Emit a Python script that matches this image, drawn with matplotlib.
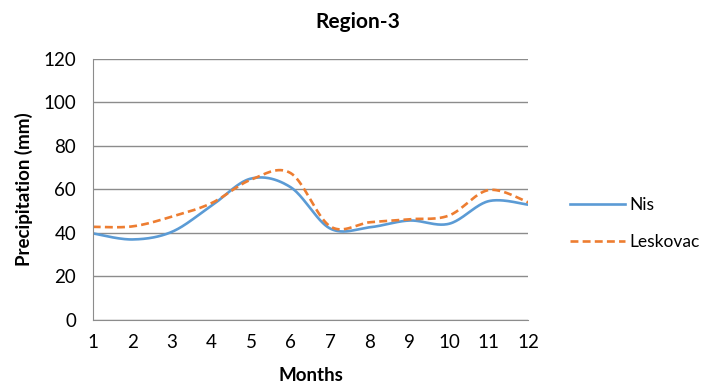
import numpy as np
import matplotlib.pyplot as plt

plt.rcParams['font.family'] = ['Lato', 'DejaVu Sans']

months = np.arange(1, 13)
nis = [39.8, 37.0, 40.5, 52.5, 65.0, 61.0, 42.0, 42.6, 45.7, 44.2, 54.6, 53.0]
leskovac = [42.8, 43.0, 47.5, 53.7, 64.5, 67.5, 43.0, 44.9, 46.3, 48.0, 59.7, 54.1]


def smooth(x, y, n=40):
    # cardinal spline through the points, same as a "smoothed line" chart
    x = np.asarray(x, float)
    y = np.asarray(y, float)
    px = np.concatenate([[x[0]], x, [x[-1]]])
    py = np.concatenate([[y[0]], y, [y[-1]]])
    xs, ys = [], []
    t = np.linspace(0, 1, n)
    for i in range(1, len(px) - 2):
        p0 = np.array([px[i], py[i]])
        p3 = np.array([px[i + 1], py[i + 1]])
        p1 = p0 + (np.array([px[i + 1], py[i + 1]]) - np.array([px[i - 1], py[i - 1]])) / 6
        p2 = p3 - (np.array([px[i + 2], py[i + 2]]) - np.array([px[i], py[i]])) / 6
        b = ((1 - t) ** 3)[:, None] * p0 + (3 * (1 - t) ** 2 * t)[:, None] * p1 \
            + (3 * (1 - t) * t ** 2)[:, None] * p2 + (t ** 3)[:, None] * p3
        xs.extend(b[:, 0])
        ys.extend(b[:, 1])
    return xs, ys


fig = plt.figure(figsize=(7.08, 3.85), dpi=100)
ax = fig.add_axes([0.131, 0.169, 0.615, 0.678])

ax.plot(*smooth(months, nis), color='#5B9BD5', lw=1.9, label='Nis')
ax.plot(*smooth(months, leskovac), color='#ED7D31', lw=1.9,
        linestyle=(0, (3, 1.6)), label='Leskovac')

ax.set_xlim(1, 12)
ax.set_ylim(0, 120)
ax.set_xticks(months)
ax.set_yticks(np.arange(0, 121, 20))
ax.tick_params(length=0, labelsize=13.5, colors='black')
ax.tick_params(axis='x', pad=10)
ax.tick_params(axis='y', pad=12)
ax.grid(axis='y', color='#8c8c8c', lw=1)
ax.set_axisbelow(True)
for side in ['top', 'right']:
    ax.spines[side].set_visible(False)
for side in ['left', 'bottom']:
    ax.spines[side].set_color('#8c8c8c')

fig.text(0.505, 0.943, 'Region-3', fontsize=15, fontweight='bold',
         ha='center', va='center')
ax.set_xlabel('Months', fontsize=13.5, fontweight='bold', labelpad=12)
ax.set_ylabel('Precipitation (mm)', fontsize=13.5, fontweight='bold')
ax.yaxis.set_label_coords(-0.138, 0.5)

fig.legend(loc='center left', bbox_to_anchor=(0.805, 0.42), frameon=False,
           borderpad=0, borderaxespad=0,
           fontsize=12.5, handlelength=3.2, handletextpad=0.2, labelspacing=1.2)

fig.savefig('out.png', dpi=100)
